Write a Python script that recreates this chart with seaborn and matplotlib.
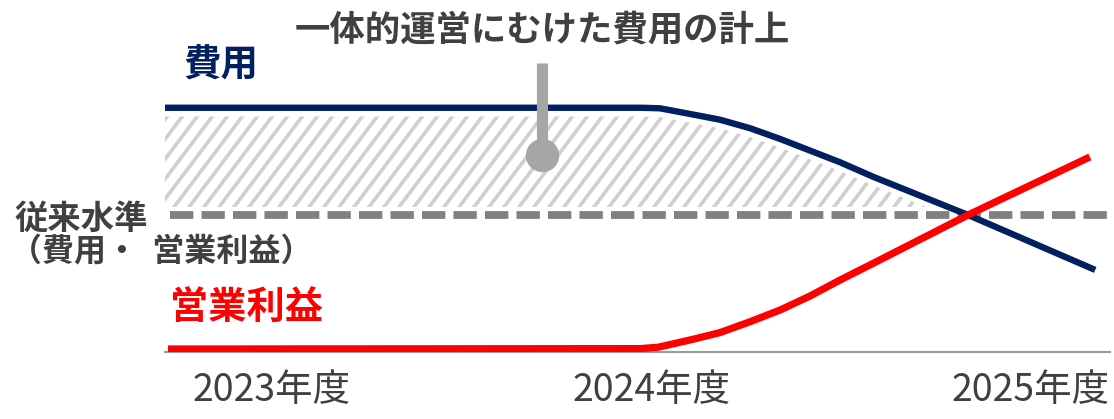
import matplotlib
matplotlib.use("Agg")
import numpy as np
import matplotlib.pyplot as plt
from matplotlib.collections import LineCollection
from matplotlib.transforms import IdentityTransform
import seaborn as sns
import pandas as pd

# --- data -------------------------------------------------------------
# x: fiscal time in years (tick at the middle of each fiscal year)
# y: index where the previous level (従来水準) = 100
years = ["2023年度", "2024年度", "2025年度"]
year_pos = [2023.5, 2024.5, 2025.5]

cost_x = [2023.218, 2024.470, 2024.522, 2024.601, 2024.680, 2024.760,
          2024.839, 2024.918, 2024.997, 2025.084, 2025.334, 2025.669]
cost_y = [180.0, 180.0, 179.6, 175.4, 171.1, 164.7,
          156.7, 148.0, 139.3, 128.5, 100.0, 59.0]

profit_x = [2023.226, 2024.470, 2024.517, 2024.601, 2024.680, 2024.760,
            2024.839, 2024.918, 2024.997, 2025.084, 2025.334, 2025.655]
profit_y = [0.0, 0.3, 1.3, 6.7, 12.2, 20.4,
            29.1, 39.6, 51.5, 63.9, 100.0, 143.3]

baseline_level = 100

cost_df = pd.DataFrame({"x": cost_x, "y": cost_y})
profit_df = pd.DataFrame({"x": profit_x, "y": profit_y})

# --- style ------------------------------------------------------------
sns.set_theme(style="white")
plt.rcParams["font.family"] = ["Noto Sans CJK JP", "DejaVu Sans"]

NAVY = "#002060"
RED = "#FF0000"
DARK = "#404040"
GREY = "#808080"
PIN = "#A6A6A6"
HATCH = "#CFCFCF"

W, H = 1114, 419
fig = plt.figure(figsize=(W / 100, H / 100), dpi=100)
ax = fig.add_axes([165 / W, 67 / H, 945 / W, 352 / H])
ax.set_xlim(2023.218, 2025.708)
ax.set_ylim(-2.24, 260.4)

# band of extra cost above the previous level, filled with diagonal hatching
band_lo = [baseline_level + 6] * len(cost_y)
band_hi = [c - 6.5 for c in cost_y]
band = ax.fill_between(cost_x, band_lo, band_hi,
                       where=[h > l for h, l in zip(band_hi, band_lo)],
                       interpolate=True, facecolor="none", linewidth=0, zorder=1)

x0, y0, x1, y1 = ax.bbox.extents
spacing, angle = 15.0, np.deg2rad(53)
rise = (y1 - y0)
run = rise / np.tan(angle)
starts = np.arange(x0 - run, x1 + spacing, spacing)
segs = [[(s, y0), (s + run, y1)] for s in starts]
hatch = LineCollection(segs, colors=HATCH, linewidths=2.6,
                       transform=IdentityTransform(), zorder=1)
hatch.set_clip_path(band.get_paths()[0], ax.transData)
ax.add_collection(hatch, autolim=False)

# previous level (dashed)
ax.axhline(baseline_level, xmin=0.005, xmax=1, color=GREY, lw=5.6,
           dashes=(3.0, 1.05), zorder=2)

# series
sns.lineplot(data=cost_df, x="x", y="y", ax=ax, color=NAVY, lw=4.6,
             sort=False, zorder=4, solid_capstyle="butt")
sns.lineplot(data=profit_df, x="x", y="y", ax=ax, color=RED, lw=5.2,
             sort=False, zorder=5, solid_capstyle="butt")
ax.set_xlim(2023.218, 2025.708)
ax.set_ylim(-2.24, 260.4)

# callout pin
pin_x, pin_top, pin_bottom = 2024.211, 213.4, 144.8
ax.plot([pin_x, pin_x], [pin_top, pin_bottom], color=PIN, lw=8,
        solid_capstyle="butt", zorder=6)
ax.plot([pin_x], [pin_bottom], "o", color=PIN, markersize=23, zorder=6)
ax.text(pin_x, 238, "一体的運営にむけた費用の計上", ha="center", va="center",
        fontsize=25.5, fontweight="bold", color=DARK)

# axes styling
for side in ["top", "right", "left"]:
    ax.spines[side].set_visible(False)
ax.spines["bottom"].set_color("#9A9A9A")
ax.spines["bottom"].set_linewidth(1.5)
ax.set_yticks([])
ax.set_xticks(year_pos)
ax.set_xticklabels(years, fontsize=27, color=DARK)
ax.tick_params(axis="x", length=0, pad=14)
ax.set_xlabel("")
ax.set_ylabel("")

# series labels
fig.text(183 / W, 1 - 65 / H, "費用", ha="left", va="center",
         fontsize=27, fontweight="bold", color=NAVY)
fig.text(170 / W, 1 - 308 / H, "営業利益", ha="left", va="center",
         fontsize=27.5, fontweight="bold", color=RED)
fig.text(14 / W, 1 - 219 / H, "従来水準", ha="left", va="center",
         fontsize=24, fontweight="bold", color=DARK)
fig.text(10 / W, 1 - 252 / H, "（費用・  営業利益）", ha="left", va="center",
         fontsize=23, fontweight="bold", color=DARK)

fig.savefig("out.png", dpi=100)
